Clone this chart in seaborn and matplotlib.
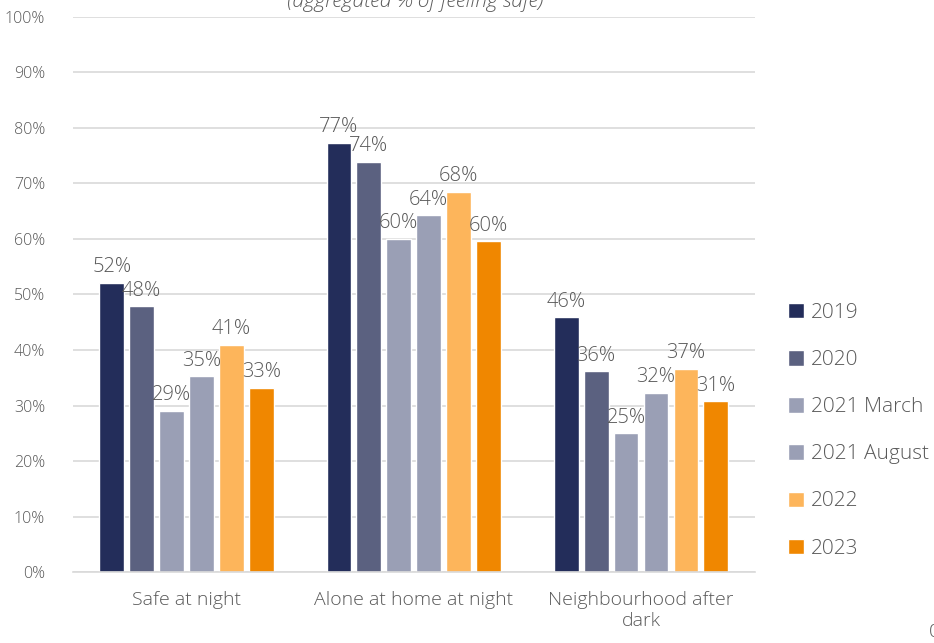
import matplotlib.pyplot as plt
import pandas as pd
import seaborn as sns

categories = ["Safe at night", "Alone at home at night", "Neighbourhood after\ndark"]
waves = ["2019", "2020", "2021 March", "2021 August", "2022", "2023"]
values = {
    "2019": [52.1, 77.3, 45.9],
    "2020": [47.9, 73.9, 36.2],
    "2021 March": [29.0, 60.0, 25.0],
    "2021 August": [35.3, 64.3, 32.3],
    "2022": [40.9, 68.5, 36.6],
    "2023": [33.2, 59.6, 30.8],
}
colors = ["#232D5A", "#5B6180", "#9A9FB5", "#9A9FB5", "#FDB55B", "#F08700"]
yticks = list(range(0, 101, 10))
title = "(aggregated % of feeling safe)"

sns.set_theme(style="white")
plt.rcParams["font.family"] = ["Open Sans", "DejaVu Sans"]
plt.rcParams["font.weight"] = "light"
text_grey = "#595959"

rows = []
for w in waves:
    for c, v in zip(categories, values[w]):
        rows.append({"Category": c, "Wave": w, "Value": v})
df = pd.DataFrame(rows)

fig = plt.figure(figsize=(9.34, 6.43), dpi=100)
ax = fig.add_axes([0.078, 0.1104, 0.730, 0.8632])

sns.barplot(data=df, x="Category", y="Value", hue="Wave", hue_order=waves,
            order=categories, palette=colors, width=0.79, gap=0.17,
            saturation=1, ax=ax, legend=True)

for cont in ax.containers:
    ax.bar_label(cont, labels=[f"{v:.0f}%" for v in cont.datavalues],
                 padding=4, fontsize=14.5, color=text_grey)

ax.set_ylim(0, 100)
ax.set_xlim(-0.5, 2.5)
ax.set_yticks(yticks)
ax.set_yticklabels([f"{t}%" for t in yticks])
ax.yaxis.grid(True, color="#D9D9D9", linewidth=1.2)
ax.set_axisbelow(True)
for s in ["top", "right", "left"]:
    ax.spines[s].set_visible(False)
ax.spines["bottom"].set_color("#D9D9D9")
ax.spines["bottom"].set_linewidth(1.2)
ax.tick_params(axis="y", length=0, labelsize=11.5, labelcolor=text_grey, pad=20)
ax.tick_params(axis="x", length=0, labelsize=14, labelcolor=text_grey, pad=14)
ax.set_xlabel("")
ax.set_ylabel("")

ax.legend(loc="center left", bbox_to_anchor=(0.844, 0.33), bbox_transform=fig.transFigure,
          frameon=False, fontsize=15, labelcolor=text_grey, handlelength=0.75,
          handleheight=0.75, handletextpad=0.35, labelspacing=1.3, borderaxespad=0,
          borderpad=0)

fig.text(0.445, 0.997, title, ha="center", va="center", fontsize=15,
         style="italic", color=text_grey)
fig.text(0.994, 0.017, "0", ha="left", va="center", fontsize=14, color=text_grey)

plt.savefig("out.png", dpi=100)
plt.close()
